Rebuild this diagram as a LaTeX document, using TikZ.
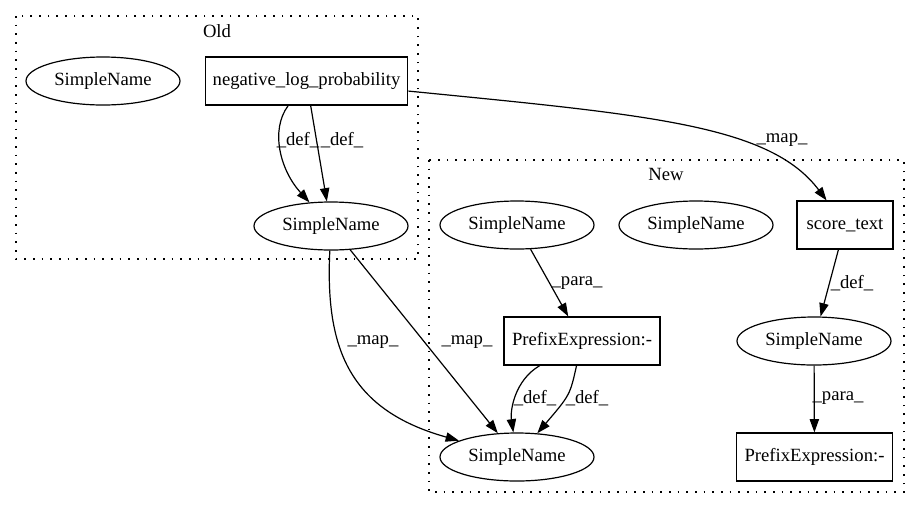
\documentclass[tikz,border=0pt]{standalone}
\usepackage{fontspec}
\setmainfont{Liberation Serif}
\usetikzlibrary{arrows.meta,shapes.geometric}
\begin{document}
\begin{tikzpicture}[x=0.75pt,y=-0.75pt,
  every node/.style={font=\fontsize{14}{16}\selectfont, inner sep=0pt},
  sname/.style={draw, line width=0.9pt, ellipse, minimum width=115.5pt, minimum height=36pt},
  rbox/.style={draw, line width=0.9pt, rectangle, minimum height=36pt},
  cluster/.style={draw, line width=1pt, dash pattern=on 1.2pt off 5.3pt},
  edge/.style={draw, line width=0.9pt, -{Triangle[length=10pt,width=7pt]}},
  elabel/.style={}
]
\useasboundingbox (0,0) rectangle (920,508);
% clusters
\draw[cluster] (16,16) rectangle (418,259);
\node (oldlbl) at (217,31) {Old};
\draw[cluster] (429,160) rectangle (904,492);
\node (newlbl) at (666,174) {New};
% Old nodes
\node[sname] (osn1) at (103,81) {SimpleName};
\node[rbox, minimum width=152pt] (neg) at (306.5,81) {negative\_log\_probability};
\node[sname] (osn2) at (331,226) {SimpleName};
% New nodes
\node[sname] (nsnA) at (517,225) {SimpleName};
\node[sname] (nsnB) at (696,225) {SimpleName};
\node[rbox, minimum width=72pt] (score) at (845,225) {score\_text};
\node[rbox, minimum width=117pt] (pre1) at (582,341) {PrefixExpression:-};
\node[sname] (nsnC) at (814,341) {SimpleName};
\node[sname] (nsnD) at (517,457) {SimpleName};
\node[rbox, minimum width=117.5pt] (pre2) at (814.5,457) {PrefixExpression:-};
% edges
\path[edge] (neg) .. controls (270,130) and (280,170) .. (osn2);
\path[edge] (neg) -- (osn2);
\node[elabel] (ld1) at (298,140) {\_def\_};
\node[elabel] (ld2) at (342,140) {\_def\_};
\path[edge] (neg) .. controls (650,115) and (770,125) .. (score);
\node[elabel] (lm0) at (782,140) {\_map\_};
\path[edge] (osn2) .. controls (325,350) and (350,410) .. (nsnD);
\path[edge] (osn2) -- (nsnD);
\node[elabel] (lm1) at (373,342) {\_map\_};
\node[elabel] (lm2) at (467,342) {\_map\_};
\path[edge] (nsnA) -- (pre1);
\node[elabel] (lp1) at (577,283) {\_para\_};
\path[edge] (score) -- (nsnC);
\node[elabel] (ld3) at (852,283) {\_def\_};
\path[edge] (nsnC) -- (pre2);
\node[elabel] (lp2) at (838,398) {\_para\_};
\path[edge] (pre1) .. controls (515,380) and (510,410) .. (nsnD);
\path[edge] (pre1) .. controls (570,395) .. (nsnD);
\node[elabel] (ld4) at (535,398) {\_def\_};
\node[elabel] (ld5) at (587,398) {\_def\_};
\end{tikzpicture}
\end{document}
